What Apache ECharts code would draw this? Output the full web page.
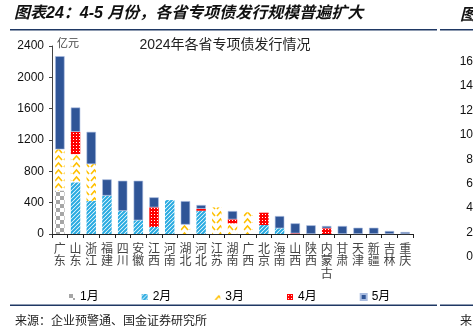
<!DOCTYPE html>
<html>
<head>
<meta charset="utf-8">
<script src="https://cdn.jsdelivr.net/npm/echarts@6/dist/echarts.min.js"></script>
<style>
html,body{margin:0;padding:0;background:#fff;}
#c{width:473px;height:326px;}
</style>
</head>
<body>
<div id="c"></div>
<script>
// ---- data ----
var categories = ['广东','山东','浙江','福建','四川','安徽','江西','河南','湖北','河北','江苏','湖南','广西','北京','海南','山西','陕西','内蒙古','甘肃','天津','新疆','吉林','重庆'];
var jan = [555,0,0,0,0,0,0,0,0,0,0,0,0,0,0,0,0,0,0,0,0,0,0];
var feb = [0,660,424,490,295,175,90,433,0,297,0,0,0,115,73,0,0,0,0,0,0,0,0];
var mar = [525,360,468,0,0,0,0,0,120,0,340,136,277,0,0,0,0,0,0,0,0,0,0];
var apr = [0,285,0,0,0,0,250,0,0,25,0,51,0,157,0,8,0,73,0,0,0,0,0];
var may = [1190,310,412,207,385,505,128,0,300,48,0,106,0,0,156,128,111,29,102,80,80,38,25];
var seriesNames = ['1月','2月','3月','4月','5月'];
var yTicks = [0,400,800,1200,1600,2000,2400];
var rightTicks = ['16','14','12','10','8','6','4','2','0'];

// ---- patterns ----
function tile(w,h,draw){var c=document.createElement('canvas');c.width=w;c.height=h;var g=c.getContext('2d');g.fillStyle='#fff';g.fillRect(0,0,w,h);draw(g);return {image:c,repeat:'repeat'};}
var pChecker = tile(8,8,function(g){g.fillStyle='#A6A6A6';g.fillRect(0,0,4,4);g.fillRect(4,4,4,4);});
var pStripe = tile(4,4,function(g){g.strokeStyle='#27AAE1';g.lineWidth=2;g.beginPath();g.moveTo(-1,5);g.lineTo(5,-1);g.moveTo(-3,3);g.lineTo(3,-3);g.moveTo(1,7);g.lineTo(7,1);g.stroke();});
var pChevron = tile(9,7,function(g){g.strokeStyle='#FFC000';g.lineWidth=1.6;g.beginPath();g.moveTo(1,6);g.lineTo(4.5,2);g.lineTo(8,6);g.stroke();});
var pDots = tile(3,3,function(g){g.fillStyle='#FF0000';g.fillRect(0,0,3,3);g.fillStyle='#fff';g.fillRect(1,1,1,1);});
var fills = [pChecker,pStripe,pChevron,pDots,'#2F5597'];

function nz(a){return a.map(function(v){return v===0?null:v;});}
var allData=[jan,feb,mar,apr,may];

var chart = echarts.init(document.getElementById('c'),null,{renderer:'canvas'});
var series = allData.map(function(d,i){
  return {name:seriesNames[i],type:'bar',stack:'s',data:nz(d),barCategoryGap:'40%',
    itemStyle:{color:fills[i],borderColor:i===4?'#A9BCE0':null,borderWidth:i===4?0.6:0},
    emphasis:{disabled:true}};
});
var navy='#1F3864';
chart.setOption({
  animation:false,
  textStyle:{fontFamily:'Liberation Sans, Noto Sans CJK SC'},
  grid:{left:52,right:60,top:46,bottom:92},
  legend:{data:seriesNames,left:64,top:286,itemWidth:6,itemHeight:6,itemGap:43,icon:'rect',
    textStyle:{fontSize:12,color:'#000',fontFamily:'Liberation Sans, Noto Sans CJK SC'}},
  xAxis:{type:'category',data:categories,
    axisLine:{lineStyle:{color:'#222',width:1}},
    axisTick:{show:true,length:4,lineStyle:{color:'#222'}},
    axisLabel:{interval:0,margin:8,fontSize:12,lineHeight:12.5,color:'#444',fontFamily:'Noto Sans CJK SC',
      formatter:function(v){return v.split('').join('\n');}}},
  yAxis:{type:'value',min:yTicks[0],max:yTicks[yTicks.length-1],interval:400,
    axisLine:{show:true,lineStyle:{color:'#444'}},
    axisTick:{show:true,length:3,lineStyle:{color:'#444'}},
    splitLine:{show:false},
    axisLabel:{fontSize:12,color:'#111',margin:8,formatter:function(v){return String(v);}}},
  series:series,
  graphic:[
    {type:'text',left:14,top:6,style:{text:'图表24：4-5 月份，各省专项债发行规模普遍扩大',fontSize:16,fontWeight:'bold',fontStyle:'italic',fill:'#111',fontFamily:'Liberation Sans, Noto Sans CJK SC'}},
    {type:'text',left:460,top:6,style:{text:'图',fontSize:16,fontWeight:'bold',fontStyle:'italic',fill:'#111',fontFamily:'Noto Sans CJK SC'}},
    {type:'rect',shape:{x:10,y:29,width:427,height:1.6},style:{fill:navy}},
    {type:'rect',shape:{x:440,y:29,width:33,height:1.6},style:{fill:navy}},
    {type:'text',x:225,y:45,style:{text:'2024年各省专项债发行情况',fontSize:14,fill:'#222',textAlign:'center',textVerticalAlign:'middle',fontFamily:'Liberation Sans, Noto Sans CJK SC'}},
    {type:'text',x:57,y:43,style:{text:'亿元',fontSize:11,fill:'#444',textVerticalAlign:'middle',fontFamily:'Noto Sans CJK SC'}},
    {type:'rect',shape:{x:10,y:304.5,width:427,height:1.6},style:{fill:navy}},
    {type:'rect',shape:{x:440,y:304.5,width:33,height:1.6},style:{fill:navy}},
    {type:'text',x:15,y:320,style:{text:'来源：企业预警通、国金证券研究所',fontSize:12,fill:'#222',textVerticalAlign:'middle',fontFamily:'Noto Sans CJK SC'}},
    {type:'text',x:460,y:320,style:{text:'来',fontSize:12,fill:'#222',textVerticalAlign:'middle',fontFamily:'Noto Sans CJK SC'}}
  ].concat(rightTicks.map(function(t,i){
    return {type:'text',x:473,y:61.7+i*24.4,style:{text:t,fontSize:12,fill:'#111',textAlign:'right',textVerticalAlign:'middle',fontFamily:'Liberation Sans'}};
  }))
});
</script>
</body>
</html>
